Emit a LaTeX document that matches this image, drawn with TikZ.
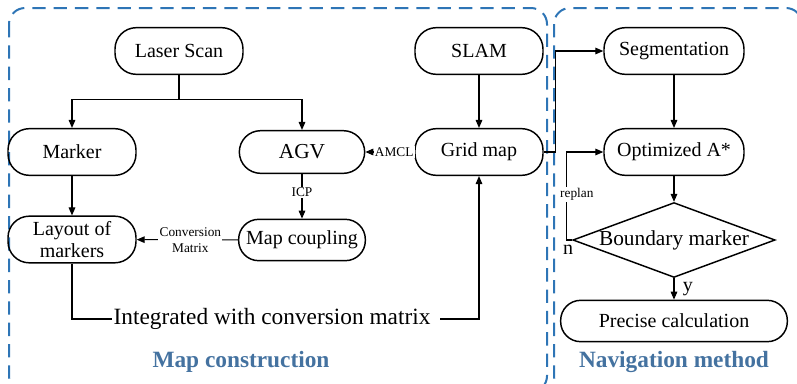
\documentclass[tikz,border=0pt]{standalone}
\usepackage{fontspec}
\setmainfont{Liberation Serif}
\usetikzlibrary{arrows.meta, shapes.geometric}
\usepackage{xcolor}
\definecolor{frameblue}{RGB}{46,117,182}
\definecolor{titleblue}{RGB}{68,114,160}

\begin{document}
\begin{tikzpicture}[
    x=0.75pt, y=-0.75pt,
    box/.style={draw, line width=1.1pt, rounded corners=16pt, minimum width=96pt, minimum height=35pt, align=center, inner sep=2pt, font=\fontsize{15}{16.5}\selectfont},
    decision/.style={draw, line width=1.1pt, diamond, aspect=2.7, inner sep=0pt, font=\fontsize{16}{18}\selectfont},
    lbl/.style={fill=white, inner sep=1pt, font=\fontsize{10}{12}\selectfont},
    panel/.style={draw=frameblue, line width=1.5pt, dash pattern=on 10pt off 6pt, rounded corners=12pt},
    title/.style={text=titleblue, font=\fontsize{17.5}{20}\selectfont\bfseries},
    >={Triangle[length=6pt, width=5pt]}
]
\useasboundingbox (0,0) rectangle (797,383);

% the two panels
\draw[panel] (9,8) rectangle (547,392);
\draw[panel] (554,8) rectangle (802,392);

\node[box] (scan) at (179,51) {Laser Scan};
\node[box] (slam) at (479,51) {SLAM};
\node[box, minimum width=105pt] (seg) at (674,51) {Segmentation};
\node[box] (marker) at (72,152) {Marker};
\node[box, minimum width=94pt, minimum height=32pt, font=\fontsize{16}{18}\selectfont] (agv) at (302,152) {AGV};
\node[box] (grid) at (479,152) {Grid map};
\node[box, minimum width=105pt] (opt) at (674,152) {Optimized A*};
\node[box] (layout) at (72,239.5) {Layout of\\markers};
\node[box, minimum width=95pt, minimum height=31pt, rounded corners=15pt] (coupling) at (302,240) {Map coupling};
\node[decision] (bnd) at (674,240) {Boundary marker};
\node[box, minimum width=170pt, minimum height=31pt, rounded corners=15pt] (precise) at (674,321) {Precise calculation};
\node[font=\fontsize{17.5}{20}\selectfont, inner sep=1pt] (integ) at (272,319) {Integrated with conversion matrix};

\node[title] (mapt) at (241,362) {Map construction};
\node[title] (navt) at (674,362) {Navigation method};

\draw[->, thick] (scan.south) -- ++(0,24) -| (marker.north);
\draw[->, thick] (scan.south) -- ++(0,24) -| (agv.north);
\draw[->, thick] (marker) -- (layout);
\draw[->, thick] (slam) -- (grid);
\draw[->, thick] (seg) -- (opt);
\draw[->, thick] (opt) -- (bnd);
\draw[->, thick] (bnd) -- node[right, xshift=3pt, font=\fontsize{15}{16}\selectfont]{y} (precise);
\draw[->, thick] (grid) -- node[lbl, pos=0.41]{AMCL} (agv);
\draw[->, thick] (agv) -- node[lbl, pos=0.41]{ICP} (coupling);
\draw[->, thick] (coupling) -- node[lbl, align=center, pos=0.47]{Conversion\\Matrix} (layout);
\draw[thick] (layout) |- (integ);
\draw[->, thick] ([xshift=6pt]integ.east) -| (grid);
\draw[->, thick] (grid.east) -- ++(12,0) |- (seg.west);
\draw[->, thick] (bnd.west) node[below, xshift=-3pt, font=\fontsize{15}{16}\selectfont]{n} -- ++(-6,0) |- node[lbl, pos=0.26, xshift=8pt]{replan} (opt.west);
\end{tikzpicture}
\end{document}
